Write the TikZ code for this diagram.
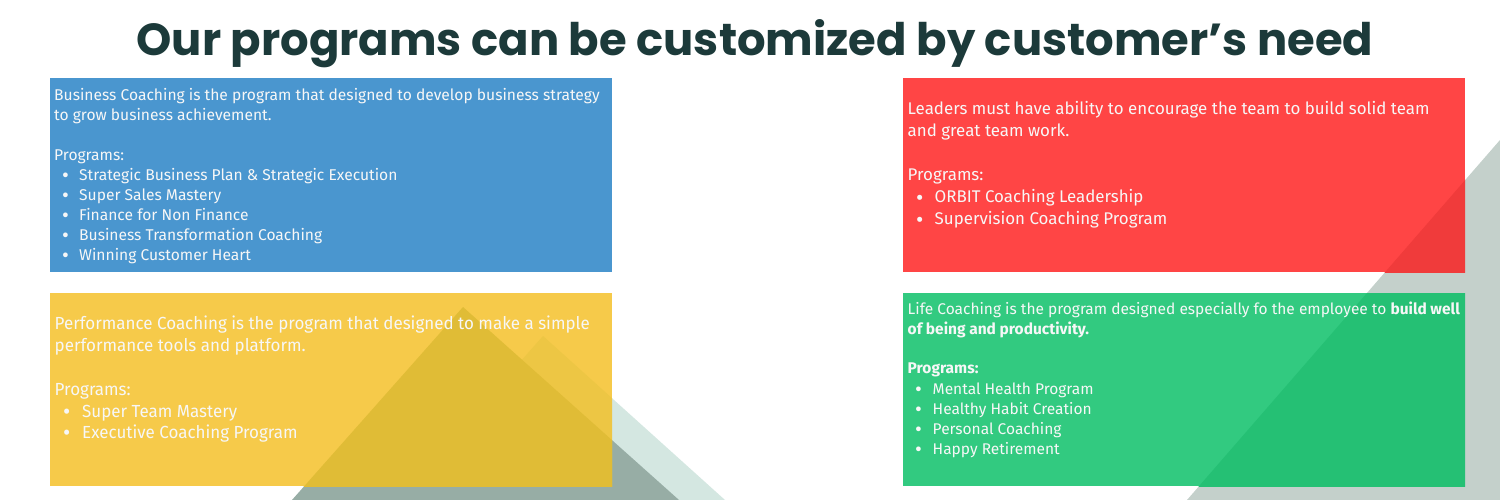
\documentclass[tikz,border=0pt]{standalone}
\usepackage{fontspec}
\setmainfont{Fira Sans}
\newfontfamily\titlefont{Poppins}
\newfontfamily\condfont{Fira Sans}[FakeStretch=0.97]
\definecolor{titlec}{HTML}{1C3A3A}
\definecolor{trdark}{HTML}{97ADA5}
\definecolor{trlight}{HTML}{D4E7E1}
\definecolor{trgray}{HTML}{C4D0CB}
\definecolor{yel}{HTML}{F6CA4A}
\definecolor{yeldark}{HTML}{E0BC36}
\definecolor{yellight}{HTML}{EDC644}
\definecolor{blu}{HTML}{4A96CF}
\definecolor{rd}{HTML}{FF4545}
\definecolor{rdgray}{HTML}{F03B3B}
\definecolor{grn}{HTML}{32CA80}
\definecolor{grngray}{HTML}{25C074}
\definecolor{txtc}{HTML}{F7F7F7}
\tikzset{
  txt/.style={anchor=base west, inner sep=0pt, text=txtc},
  bl/.style={txt, font=\fontsize{15.6}{20}\selectfont},
  rl/.style={txt, font=\fontsize{16.9}{22}\selectfont},
  gl/.style={txt, font=\fontsize{15.5}{20}\selectfont},
  yl/.style={txt, font=\condfont\fontsize{17.5}{22}\selectfont},
  box/.style={inner sep=0pt, outer sep=0pt}
}
\newcommand{\itm}[3]{\makebox[#1][l]{\raisebox{-2pt}[0pt][0pt]{\fontsize{#2}{#2}\selectfont\textbullet}}#3}
\begin{document}
\begin{tikzpicture}[x=1pt,y=-1pt]
\useasboundingbox (0,0) rectangle (1500,500);
\fill[white] (0,0) rectangle (1500,500);
\begin{scope}
\clip (0,0) rectangle (1500,500);
% left triangles
\fill[trlight] (543,336) -- (398,500) -- (725,500) -- cycle;
\fill[trdark] (463,307) -- (292,500) -- (679,500) -- cycle;
% right triangle
\fill[trgray] (1500,140) -- (1187,500) -- (1500,500) -- cycle;
% boxes
\fill[blu] (50,78) rectangle (612,272);
\fill[yel] (50,293) rectangle (612,486);
\fill[rd] (903,78) rectangle (1465,272);
\fill[grn] (903,293) rectangle (1465,486);
% overlaps
\begin{scope}
\clip (50,293) rectangle (612,486);
\fill[yellight] (543,336) -- (398,500) -- (725,500) -- cycle;
\fill[yeldark] (463,307) -- (292,500) -- (679,500) -- cycle;
\end{scope}
\begin{scope}
\clip (903,78) rectangle (1465,272);
\fill[rdgray] (1500,140) -- (1187,500) -- (1500,500) -- cycle;
\end{scope}
\begin{scope}
\clip (903,293) rectangle (1465,486);
\fill[grngray] (1500,140) -- (1187,500) -- (1500,500) -- cycle;
\end{scope}
\end{scope}
% title
\node[anchor=base, inner sep=0pt, text=titlec, font=\titlefont\bfseries\fontsize{44.9}{52}\selectfont] (title) at (755,56) {Our programs can be customized by customer’s need};
% blue box text
\node[bl] (b1) at (54,100.5) {Business Coaching is the program that designed to develop business strategy};
\node[bl] (b2) at (54,120.5) {to grow business achievement.};
\node[bl] (b3) at (54,160.5) {Programs:};
\node[bl] (b4) at (62,180.5) {\itm{17pt}{21}{Strategic Business Plan \& Strategic Execution}};
\node[bl] (b5) at (62,200.5) {\itm{17pt}{21}{Super Sales Mastery}};
\node[bl] (b6) at (62,220.5) {\itm{17pt}{21}{Finance for Non Finance}};
\node[bl] (b7) at (62,240.5) {\itm{17pt}{21}{Business Transformation Coaching}};
\node[bl] (b8) at (62,260.5) {\itm{17pt}{21}{Winning Customer Heart}};
% yellow box text
\node[yl] (y1) at (54.5,329) {Performance Coaching is the program that designed to make a simple};
\node[yl] (y2) at (54.5,351) {performance tools and platform.};
\node[yl] (y3) at (54.5,395) {Programs:};
\node[yl] (y4) at (63,417) {\itm{19pt}{23}{Super Team Mastery}};
\node[yl] (y5) at (63,438) {\itm{19pt}{23}{Executive Coaching Program}};
% red box text
\node[rl] (r1) at (907.5,114.5) {Leaders must have ability to encourage the team to build solid team};
\node[rl] (r2) at (907.5,136.5) {and great team work.};
\node[rl] (r3) at (907.5,180.5) {Programs:};
\node[rl] (r4) at (916,203) {\itm{18.5pt}{22.5}{ORBIT Coaching Leadership}};
\node[rl] (r5) at (916,225) {\itm{18.5pt}{22.5}{Supervision Coaching Program}};
% green box text
\node[gl] (g1) at (907.5,314) {Life Coaching is the program designed especially fo the employee to \textbf{build well}};
\node[gl] (g2) at (907.5,334) {\textbf{of being and productivity.}};
\node[gl] (g3) at (907.5,373.5) {\textbf{Programs:}};
\node[gl] (g4) at (915,394) {\itm{17.5pt}{21}{Mental Health Program}};
\node[gl] (g5) at (915,414) {\itm{17.5pt}{21}{Healthy Habit Creation}};
\node[gl] (g6) at (915,434) {\itm{17.5pt}{21}{Personal Coaching}};
\node[gl] (g7) at (915,454) {\itm{17.5pt}{21}{Happy Retirement}};
\end{tikzpicture}
\end{document}
